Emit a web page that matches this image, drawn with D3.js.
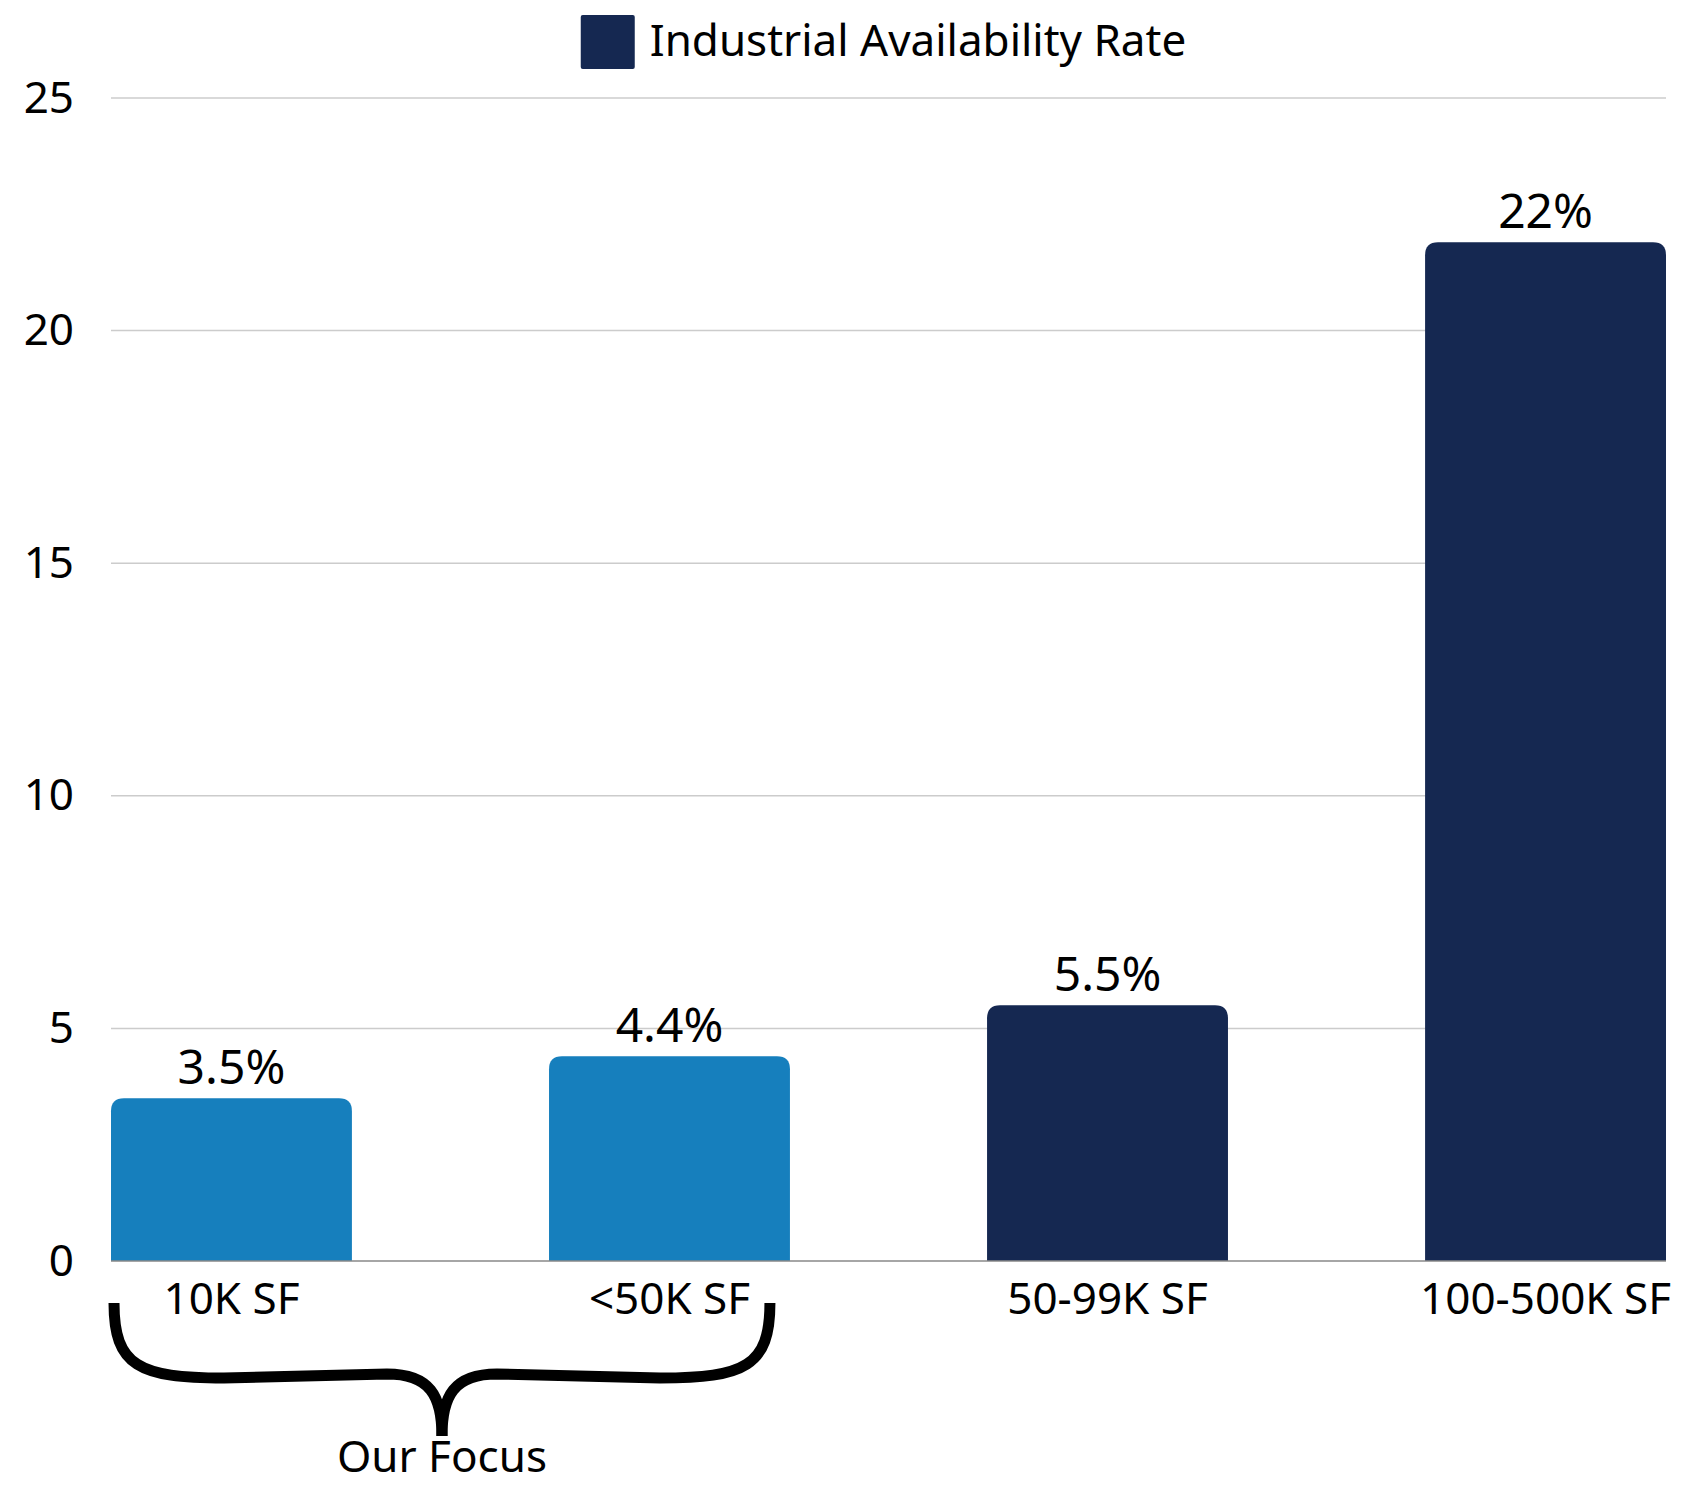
<!DOCTYPE html>
<html>
<head>
<meta charset="utf-8">
<script src="https://cdn.jsdelivr.net/npm/d3@7"></script>
<style>
  body { margin: 0; background: #fff; }
  svg { display: block; font-family: "Noto Sans", Roboto, sans-serif; }
</style>
</head>
<body>
<div id="viz"></div>
<script>
// chart data
const categories = ["10K SF", "<50K SF", "50-99K SF", "100-500K SF"];
const values = [3.5, 4.4, 5.5, 21.9];
const valueLabels = ["3.5%", "4.4%", "5.5%", "22%"];
const focusFlags = [true, true, false, false];
const yTicks = [0, 5, 10, 15, 20, 25];
const seriesName = "Industrial Availability Rate";
const focusLabel = "Our Focus";

const width = 1691, height = 1487;
const margin = { top: 98, right: 25, bottom: 226, left: 111 };
const innerW = width - margin.left - margin.right;
const innerH = height - margin.top - margin.bottom;

const lightBlue = "#167fbd";
const navy = "#152851";
const fontFam = "'Noto Sans', Roboto, sans-serif";

const svg = d3.select("#viz").append("svg")
    .attr("width", width)
    .attr("height", height);

const g = svg.append("g")
    .attr("transform", `translate(${margin.left},${margin.top})`);

const x = d3.scaleBand()
    .domain(categories)
    .range([0, innerW])
    .paddingInner(0.45)
    .paddingOuter(0);

const y = d3.scaleLinear()
    .domain([0, 25])
    .range([innerH, 0]);

// gridlines
g.append("g")
    .selectAll("line")
    .data(yTicks.filter(t => t > 0))
    .join("line")
    .attr("x1", 0)
    .attr("x2", innerW)
    .attr("y1", d => y(d))
    .attr("y2", d => y(d))
    .attr("stroke", "#cccccc")
    .attr("stroke-width", 1.5);

// y axis labels, no domain line
const yAxis = g.append("g")
    .call(d3.axisLeft(y).tickValues(yTicks).tickSize(0).tickPadding(37));
yAxis.select(".domain").remove();
yAxis.selectAll("text")
    .attr("font-size", 44)
    .attr("font-family", fontFam)
    .attr("fill", "#000");

// bars with rounded top corners
const r = 13;
function barPath(d, i) {
    const x0 = x(categories[i]), x1 = x0 + x.bandwidth();
    const y0 = y(0), y1 = y(d);
    return `M${x0},${y0} L${x0},${y1 + r} Q${x0},${y1} ${x0 + r},${y1} L${x1 - r},${y1} Q${x1},${y1} ${x1},${y1 + r} L${x1},${y0} Z`;
}

g.append("g")
    .selectAll("path")
    .data(values)
    .join("path")
    .attr("d", barPath)
    .attr("fill", (d, i) => focusFlags[i] ? lightBlue : navy);

// value labels
g.append("g")
    .selectAll("text")
    .data(values)
    .join("text")
    .attr("x", (d, i) => x(categories[i]) + x.bandwidth() / 2)
    .attr("y", d => y(d) - 14)
    .attr("text-anchor", "middle")
    .attr("font-size", 48)
    .attr("fill", "#000")
    .text((d, i) => valueLabels[i]);

// baseline
g.append("line")
    .attr("x1", 0)
    .attr("x2", innerW)
    .attr("y1", y(0))
    .attr("y2", y(0))
    .attr("stroke", "#888")
    .attr("stroke-width", 1.5);

// x axis labels
const xAxis = g.append("g")
    .attr("transform", `translate(0,${innerH})`)
    .call(d3.axisBottom(x).tickSize(0).tickPadding(22));
xAxis.select(".domain").remove();
xAxis.selectAll("text")
    .attr("font-size", 44)
    .attr("font-family", fontFam)
    .attr("fill", "#000");

// brace under the focus bars
const bL = x(categories[0]) + 3;
const bR = x(categories[1]) + x.bandwidth() - 20;
const bMid = (bL + bR) / 2;
const bTop = innerH + 42, bBar = innerH + 115, bTip = innerH + 175;
const braceArm = (end, dir) => {
    const p = d3.path();
    p.moveTo(end, bTop);
    p.bezierCurveTo(end, bBar - 10, end + dir * 25, bBar + 2, end + dir * 110, bBar + 2);
    p.lineTo(bMid - dir * 55, bBar - 2);
    p.bezierCurveTo(bMid - dir * 12, bBar - 2, bMid, bBar + 20, bMid, bTip);
    return p.toString();
};
g.append("g")
    .selectAll("path")
    .data([[bL, 1], [bR, -1]])
    .join("path")
    .attr("d", d => braceArm(d[0], d[1]))
    .attr("fill", "none")
    .attr("stroke", "#000")
    .attr("stroke-width", 11);

g.append("text")
    .attr("x", bMid)
    .attr("y", innerH + 211)
    .attr("text-anchor", "middle")
    .attr("font-size", 44)
    .attr("fill", "#000")
    .text(focusLabel);

// legend, centred over the plot area
const legend = svg.append("g");
legend.append("rect")
    .attr("x", 0)
    .attr("y", 15)
    .attr("width", 54)
    .attr("height", 54)
    .attr("rx", 2)
    .attr("fill", navy);
const legendText = legend.append("text")
    .attr("x", 69)
    .attr("y", 56)
    .attr("font-size", 44)
    .attr("fill", "#000")
    .text(seriesName);
const legendW = 69 + legendText.node().getComputedTextLength();
legend.attr("transform", `translate(${margin.left + innerW / 2 - legendW / 2 - 5},0)`);
</script>
</body>
</html>
